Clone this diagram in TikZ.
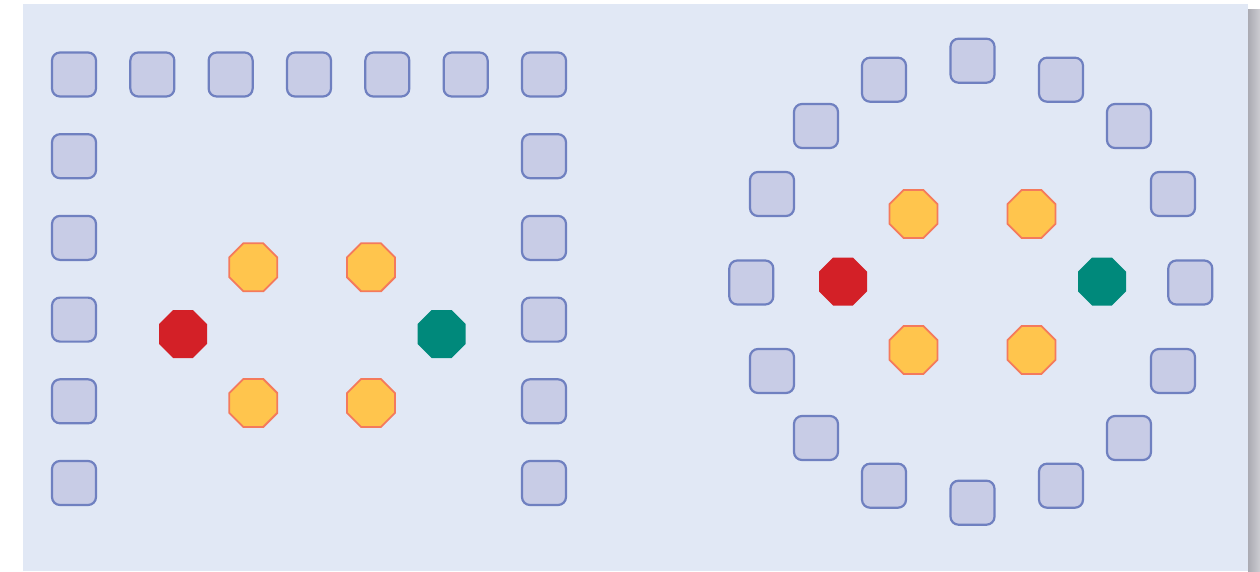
\documentclass[tikz,border=0pt]{standalone}
\usetikzlibrary{shapes.geometric}
\definecolor{bgblue}{RGB}{225,232,245}
\definecolor{sqfill}{RGB}{200,204,230}
\definecolor{sqline}{RGB}{111,128,192}
\definecolor{yelfill}{RGB}{255,197,77}
\definecolor{yelline}{RGB}{244,122,92}
\definecolor{redfill}{RGB}{211,32,39}
\definecolor{tealfill}{RGB}{0,137,123}
\definecolor{shadowA}{RGB}{170,170,178}
\definecolor{shadowB}{RGB}{205,205,210}
\tikzset{
  sqbox/.style={draw=sqline, fill=sqfill, line width=2.2pt, rounded corners=8pt,
    minimum width=44pt, minimum height=44pt, inner sep=0pt},
  octbase/.style={regular polygon, regular polygon sides=8, minimum size=51.96pt, inner sep=0pt},
  yeloct/.style={octbase, fill=yelfill, draw=yelline, line width=1.8pt},
  redoct/.style={octbase, fill=redfill},
  tealoct/.style={octbase, fill=tealfill},
}
\begin{document}
\begin{tikzpicture}[x=1pt,y=-1pt]
\useasboundingbox (0,0) rectangle (1260,571);
% shadow and background
\shade[left color=shadowA, right color=shadowB] (1248,9) rectangle (1260,571);
\fill[bgblue] (23,4) rectangle (1248,571);
% left frame of squares
\foreach \i in {0,...,6} {
  \node[sqbox] (t\i) at ({74+78.33*\i},74.5) {};
}
\foreach \j in {1,...,5} {
  \node[sqbox] (l\j) at (74,{74.5+81.7*\j}) {};
  \node[sqbox] (r\j) at (544,{74.5+81.7*\j}) {};
}
% left octagons
\node[yeloct] (ly1) at (253.3,267.3) {};
\node[yeloct] (ly2) at (371,267.3) {};
\node[yeloct] (ly3) at (253.3,403) {};
\node[yeloct] (ly4) at (371,403) {};
\node[redoct] (lred) at (183,334) {};
\node[tealoct] (lteal) at (441.6,334) {};
% right ring of squares
\foreach \x/\y [count=\k] in {972.5/60.7, 884/79.7, 1061/79.7, 816/126, 1129/126,
    772/194, 1173/194, 751.3/282.5, 1190.3/282.5, 772/371, 1173/371,
    816/438, 1129/438, 884/485.7, 1061/485.7, 972.5/502.7} {
  \node[sqbox] (c\k) at (\x,\y) {};
}
% right octagons
\node[yeloct] (ry1) at (913.5,214) {};
\node[yeloct] (ry2) at (1031.5,214) {};
\node[yeloct] (ry3) at (913.5,350) {};
\node[yeloct] (ry4) at (1031.5,350) {};
\node[redoct] (rred) at (843,281.5) {};
\node[tealoct] (rteal) at (1102,281.5) {};
\end{tikzpicture}
\end{document}
